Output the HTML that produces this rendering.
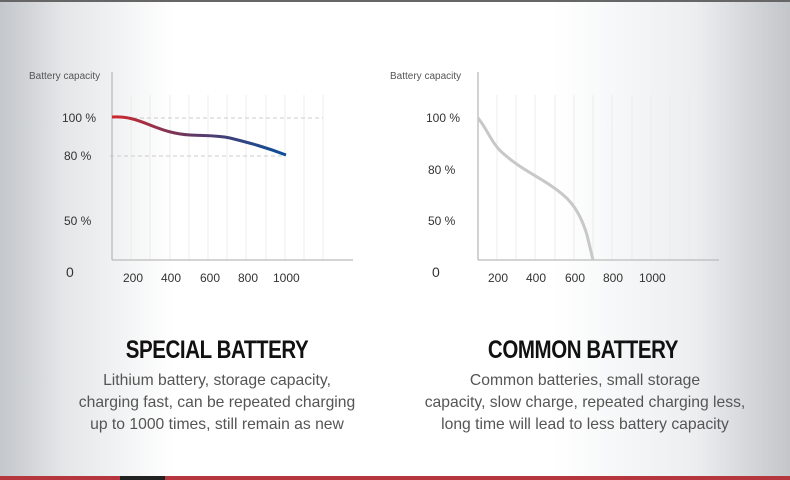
<!DOCTYPE html>
<html><head><meta charset="utf-8"><style>
html,body{margin:0;padding:0}
body{width:790px;height:480px;overflow:hidden;position:relative;font-family:"Liberation Sans",sans-serif;
background:linear-gradient(90deg,#c4c7cb 0%,#e4e6e8 8%,#fff 22%,#fff 70%,#eceef0 88%,#c3c6ca 100%);}
.top{position:absolute;left:0;top:0;width:790px;height:2px;background:#666}
.bot{position:absolute;left:0;top:476px;width:790px;height:4px;background:#b5373d}
.blk{position:absolute;left:120px;top:476px;width:45px;height:4px;background:#222}
.t{position:absolute;font-weight:bold;font-size:25px;color:#111;transform:scaleX(0.82);transform-origin:center;letter-spacing:-0.5px;white-space:nowrap}
.d{position:absolute;font-size:15.7px;color:#555;text-align:center;line-height:22px;width:380px}
</style></head><body>
<div class="top"></div>
<svg width="790" height="480" style="position:absolute;left:0;top:0" font-family="Liberation Sans, sans-serif">
<defs><linearGradient id="g" x1="112" x2="286" gradientUnits="userSpaceOnUse"><stop offset="0" stop-color="#d0282c"/><stop offset="0.5" stop-color="#5a3a6a"/><stop offset="1" stop-color="#0a4f9a"/></linearGradient></defs>
<g stroke="#ececec" stroke-width="1">
<line x1="131" y1="95" x2="131" y2="260"/><line x1="150" y1="95" x2="150" y2="260"/><line x1="170" y1="95" x2="170" y2="260"/><line x1="189" y1="95" x2="189" y2="260"/><line x1="208" y1="95" x2="208" y2="260"/><line x1="227" y1="95" x2="227" y2="260"/><line x1="246" y1="95" x2="246" y2="260"/><line x1="266" y1="95" x2="266" y2="260"/><line x1="285" y1="95" x2="285" y2="260"/><line x1="304" y1="95" x2="304" y2="260"/><line x1="323" y1="95" x2="323" y2="260"/>
<line x1="497" y1="95" x2="497" y2="260"/><line x1="516" y1="95" x2="516" y2="260"/><line x1="535" y1="95" x2="535" y2="260"/><line x1="555" y1="95" x2="555" y2="260"/><line x1="574" y1="95" x2="574" y2="260"/><line x1="593" y1="95" x2="593" y2="260"/><line x1="612" y1="95" x2="612" y2="260"/><line x1="632" y1="95" x2="632" y2="260"/><line x1="651" y1="95" x2="651" y2="260"/><line x1="670" y1="95" x2="670" y2="260"/><line x1="689" y1="95" x2="689" y2="260"/>
</g>
<g stroke="#ccc" stroke-dasharray="4,3"><line x1="112" y1="118" x2="323" y2="118"/><line x1="110" y1="156" x2="285" y2="156"/></g>
<g stroke="#bbb" stroke-width="1.3"><line x1="112" y1="72" x2="112" y2="260"/><line x1="112" y1="260" x2="353" y2="260"/><line x1="478" y1="72" x2="478" y2="260"/><line x1="478" y1="260" x2="719" y2="260"/></g>
<path d="M112,117 C125,116 135,119 150,125 C165,131 175,134 190,135 C205,136 215,135 230,138 C250,143 265,147 286,155" fill="none" stroke="url(#g)" stroke-width="3"/>
<path d="M478,118 C488,130 492,145 505,155 C520,168 535,175 550,185 C565,195 578,205 587,235 L593,260" fill="none" stroke="#c8c8c8" stroke-width="3"/>
<g fill="#555" font-size="10"><text x="29" y="79">Battery capacity</text><text x="390" y="79">Battery capacity</text></g>
<g fill="#333" font-size="12">
<text x="62" y="122">100 %</text><text x="64" y="160">80 %</text><text x="64" y="225">50 %</text><text x="66" y="277" font-size="14">0</text>
<text x="123" y="282">200</text><text x="161" y="282">400</text><text x="200" y="282">600</text><text x="238" y="282">800</text><text x="273" y="282">1000</text>
<text x="426" y="122">100 %</text><text x="428" y="174">80 %</text><text x="428" y="225">50 %</text><text x="432" y="277" font-size="14">0</text>
<text x="488" y="282">200</text><text x="526" y="282">400</text><text x="565" y="282">600</text><text x="603" y="282">800</text><text x="639" y="282">1000</text>
</g>
</svg>
<div class="t" style="left:97px;width:240px;text-align:center;top:336px">SPECIAL BATTERY</div>
<div class="t" style="left:463px;width:240px;text-align:center;top:336px">COMMON BATTERY</div>
<div class="d" style="left:27px;top:370px">Lithium battery, storage capacity,<br>charging fast, can be repeated charging<br>up to 1000 times, still remain as new</div>
<div class="d" style="left:395px;top:370px">Common batteries, small storage<br>capacity, slow charge, repeated charging less,<br>long time will lead to less battery capacity</div>
<div class="bot"></div><div class="blk"></div>
</body></html>
